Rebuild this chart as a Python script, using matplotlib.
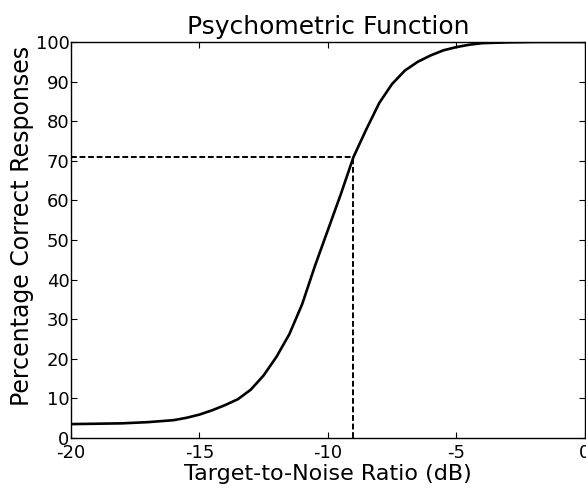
import numpy as np
import matplotlib
matplotlib.use("Agg")
import matplotlib.pyplot as plt

plt.rcParams['font.family'] = ['DejaVu Sans']
plt.rcParams['axes.unicode_minus'] = False

# curve
snr_db = [-20, -19, -18, -17, -16, -15.5, -15, -14.5, -14, -13.5, -13, -12.5,
          -12, -11.5, -11, -10.5, -10, -9.5, -9, -8.5, -8, -7.5, -7, -6.5,
          -6, -5.5, -5, -4.5, -4, -3, -2, -1, 0]
pct_correct = [3.5, 3.6, 3.7, 4.0, 4.5, 5.1, 5.9, 7.0, 8.3, 9.8, 12.2, 15.8,
               20.5, 26.2, 33.8, 43.5, 52.5, 61.5, 71.0, 78.0, 84.6, 89.4, 92.8, 95.0,
               96.6, 97.9, 98.7, 99.3, 99.7, 99.9, 100, 100, 100]

# threshold marker
thr_x = -9.02
thr_y = 71.0

xticks = [-20, -15, -10, -5, 0]
yticks = [0, 10, 20, 30, 40, 50, 60, 70, 80, 90, 100]

fig = plt.figure(figsize=(5.86, 4.88), dpi=100)
ax = fig.add_axes([0.121, 0.1025, 0.877, 0.8115])

ax.plot(snr_db, pct_correct, color='black', lw=1.9)
ax.plot([-20, thr_x], [thr_y, thr_y], color='black', lw=1.4, ls=(0, (3, 1.4)))
ax.plot([thr_x, thr_x], [0, thr_y], color='black', lw=1.4, ls=(0, (3, 1.4)))

ax.set_xlim(-20, 0)
ax.set_ylim(0, 100)
ax.set_xticks(xticks)
ax.set_yticks(yticks)
ax.tick_params(direction='in', length=4, width=0.8, top=True, right=True,
               labelsize=13, pad=1)
ax.tick_params(axis='x', pad=4)
for s in ax.spines.values():
    s.set_linewidth(1.0)

ax.set_title("Psychometric Function", fontsize=18, pad=6)
ax.set_xlabel("Target-to-Noise Ratio (dB)", fontsize=16, labelpad=2)
ax.set_ylabel("Percentage Correct Responses", fontsize=17, labelpad=1, y=0.535)

fig.savefig("out.png", dpi=100)
